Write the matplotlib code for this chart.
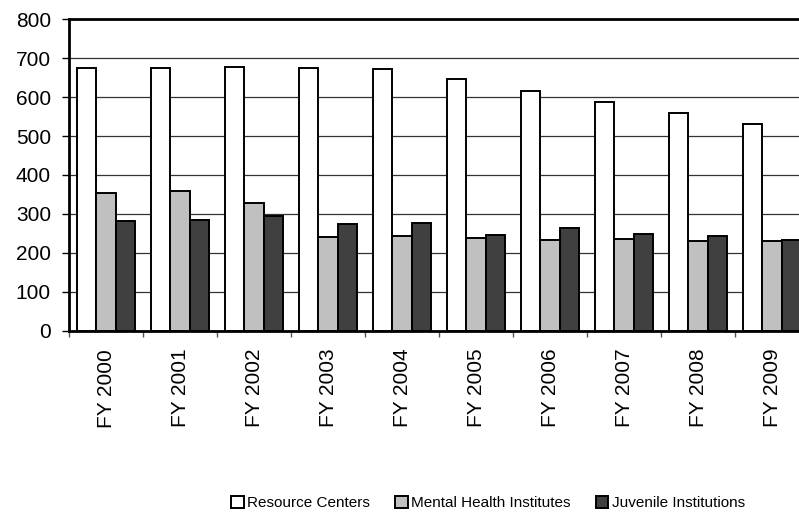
import numpy as np
import matplotlib
matplotlib.use("Agg")
import matplotlib.pyplot as plt

plt.rcParams['font.family'] = ['Liberation Sans', 'DejaVu Sans']

# data
years = ['FY 2000', 'FY 2001', 'FY 2002', 'FY 2003', 'FY 2004',
         'FY 2005', 'FY 2006', 'FY 2007', 'FY 2008', 'FY 2009']
resource_centers = [674, 674, 677, 674, 673, 647, 616, 587, 559, 531]
mental_health = [355, 360, 327, 242, 244, 237, 233, 235, 230, 230]
juvenile = [282, 284, 295, 274, 277, 247, 263, 248, 244, 233]

series = [('Resource Centers', resource_centers, 'white'),
          ('Mental Health Institutes', mental_health, '#c0c0c0'),
          ('Juvenile Institutions', juvenile, '#404040')]

fig = plt.figure(figsize=(7.99, 5.21), dpi=100)
# plot area runs past the right edge of the picture, like the reference
ax = fig.add_axes([69 / 799, 190.3 / 521, 740 / 799, 311.4 / 521])

x = np.arange(len(years))
w = 0.262
for i, (name, vals, col) in enumerate(series):
    ax.bar(x + (i - 1) * w, vals, w, color=col, edgecolor='black',
           linewidth=1.4, label=name, zorder=3)

ax.set_xlim(-0.5, len(years) - 0.5)
ax.set_ylim(0, 800)
ax.set_yticks(np.arange(0, 801, 100))
ax.yaxis.grid(True, color='#333333', linewidth=0.9, zorder=0)
ax.tick_params(axis='y', labelsize=15, length=5, width=1, pad=8)

ax.set_xticks(x)
ax.set_xticklabels(years, rotation=90, fontsize=15)
ax.set_xticks(np.arange(-0.5, len(years), 1), minor=True)
ax.tick_params(axis='x', which='major', length=0, pad=13)
ax.tick_params(axis='x', which='minor', length=4.5, width=1, color='#555555')

for s in ['left', 'bottom', 'top']:
    ax.spines[s].set_linewidth(2)
ax.spines['right'].set_visible(False)

fig.legend(loc='center', bbox_to_anchor=(488 / 799, 1 - 503 / 521),
           ncol=3, frameon=False, fontsize=11, handlelength=0.8,
           handleheight=0.8, handletextpad=0.2, columnspacing=1.7)

fig.savefig('out.png', dpi=100)
